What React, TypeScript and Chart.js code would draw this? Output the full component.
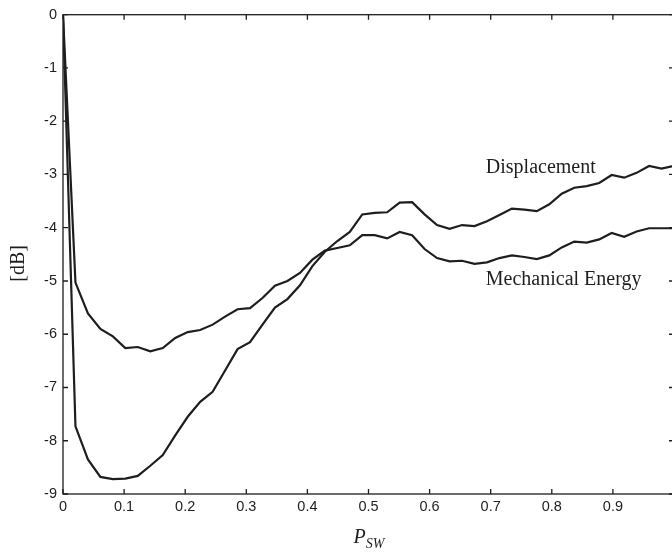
import React, { useEffect, useRef } from "react";
import { Chart, registerables } from "chart.js";

Chart.register(...registerables);

// P_SW sample positions
const psw = [
  0, 0.0204, 0.0408, 0.0612, 0.0816, 0.102, 0.1224, 0.1429, 0.1633, 0.1837,
  0.2041, 0.2245, 0.2449, 0.2653, 0.2857, 0.3061, 0.3265, 0.3469, 0.3673, 0.3878,
  0.4082, 0.4286, 0.449, 0.4694, 0.4898, 0.5102, 0.5306, 0.551, 0.5714, 0.5918,
  0.6122, 0.6327, 0.6531, 0.6735, 0.6939, 0.7143, 0.7347, 0.7551, 0.7755, 0.7959,
  0.8163, 0.8367, 0.8571, 0.8776, 0.898, 0.9184, 0.9388, 0.9592, 0.9796, 1.0,
];

const displacement = [
  0, -7.73, -8.35, -8.68, -8.72, -8.71, -8.66, -8.47, -8.27, -7.9,
  -7.55, -7.27, -7.08, -6.68, -6.28, -6.15, -5.82, -5.5, -5.34, -5.08,
  -4.72, -4.45, -4.25, -4.08, -3.75, -3.72, -3.71, -3.53, -3.52, -3.75,
  -3.95, -4.02, -3.95, -3.97, -3.88, -3.76, -3.64, -3.66, -3.69, -3.56,
  -3.36, -3.25, -3.22, -3.16, -3.01, -3.06, -2.97, -2.84, -2.89, -2.84,
];

const mechanicalEnergy = [
  0, -5.03, -5.61, -5.9, -6.04, -6.26, -6.24, -6.32, -6.26, -6.07,
  -5.96, -5.92, -5.82, -5.67, -5.53, -5.51, -5.32, -5.09, -5.0, -4.85,
  -4.6, -4.43, -4.38, -4.33, -4.14, -4.14, -4.2, -4.08, -4.14, -4.4,
  -4.57, -4.63, -4.62, -4.68, -4.65, -4.57, -4.52, -4.55, -4.59, -4.52,
  -4.37, -4.26, -4.28, -4.22, -4.1, -4.17, -4.07, -4.01, -4.01, -4.01,
];

const seriesNames = ["Displacement", "Mechanical Energy"];
const xTicks = [0, 0.1, 0.2, 0.3, 0.4, 0.5, 0.6, 0.7, 0.8, 0.9, 1.0];
const yTicks = [0, -1, -2, -3, -4, -5, -6, -7, -8, -9];
const yTitle = "[dB]";
const xTitleMain = "P";
const xTitleSub = "SW";

const INK = "#1e1e1e";

const framePlugin = {
  id: "matlabFrame",
  beforeDatasetsDraw(chart: any) {
    const { ctx, chartArea: a, scales } = chart;
    const x = scales.x;
    const y = scales.y;
    ctx.save();
    ctx.strokeStyle = INK;
    ctx.lineWidth = 1.3;
    ctx.strokeRect(a.left, a.top, a.right - a.left, a.bottom - a.top);
    ctx.beginPath();
    const t = 5;
    for (const v of xTicks) {
      const px = x.getPixelForValue(v);
      ctx.moveTo(px, a.bottom);
      ctx.lineTo(px, a.bottom - t);
      ctx.moveTo(px, a.top);
      ctx.lineTo(px, a.top + t);
    }
    for (const v of yTicks) {
      const py = y.getPixelForValue(v);
      ctx.moveTo(a.left, py);
      ctx.lineTo(a.left + t, py);
      ctx.moveTo(a.right, py);
      ctx.lineTo(a.right - t, py);
    }
    ctx.stroke();
    ctx.restore();
  },
  afterDraw(chart: any) {
    const { ctx, chartArea: a, scales } = chart;
    const x = scales.x;
    const y = scales.y;
    ctx.save();
    ctx.fillStyle = INK;
    // series annotations
    ctx.font = '20px "Liberation Serif", "DejaVu Serif", serif';
    ctx.textAlign = "left";
    ctx.textBaseline = "alphabetic";
    ctx.fillText(seriesNames[0], x.getPixelForValue(0.692), y.getPixelForValue(-2.975));
    ctx.fillText(seriesNames[1], x.getPixelForValue(0.692), y.getPixelForValue(-5.07));
    // y title
    ctx.save();
    ctx.translate(24, (a.top + a.bottom) / 2 + 9);
    ctx.rotate(-Math.PI / 2);
    ctx.textAlign = "center";
    ctx.fillText(yTitle, 0, 0);
    ctx.restore();
    // x title
    const cx = (a.left + a.right) / 2;
    ctx.font = 'italic 20px "Liberation Serif", "DejaVu Serif", serif';
    ctx.textAlign = "left";
    ctx.fillText(xTitleMain, cx - 15, a.bottom + 49);
    const pw = ctx.measureText(xTitleMain).width;
    ctx.font = 'italic 14px "Liberation Serif", "DejaVu Serif", serif';
    ctx.fillText(xTitleSub, cx - 15 + pw, a.bottom + 54);
    ctx.restore();
  },
};

export default function App() {
  const canvasRef = useRef<HTMLCanvasElement | null>(null);

  useEffect(() => {
    const canvas = canvasRef.current;
    if (!canvas) return;
    const chart = new Chart(canvas, {
      type: "line",
      data: {
        datasets: [
          {
            label: seriesNames[0],
            data: psw.map((v, i) => ({ x: v, y: displacement[i] })),
            borderColor: INK,
            borderWidth: 2.2,
            pointRadius: 0,
            tension: 0,
            fill: false,
          },
          {
            label: seriesNames[1],
            data: psw.map((v, i) => ({ x: v, y: mechanicalEnergy[i] })),
            borderColor: INK,
            borderWidth: 2.2,
            pointRadius: 0,
            tension: 0,
            fill: false,
          },
        ],
      },
      options: {
        responsive: false,
        animation: false,
        devicePixelRatio: 1,
        layout: { padding: { top: 13, right: 4, left: 0, bottom: 0 } },
        plugins: {
          legend: { display: false },
          tooltip: { enabled: false },
          title: { display: false },
        },
        scales: {
          x: {
            type: "linear",
            min: 0,
            max: 1,
            afterFit: (s: any) => {
              s.height = 58;
            },
            afterBuildTicks: (s: any) => {
              s.ticks = xTicks.map((v) => ({ value: v }));
            },
            grid: { display: false, drawTicks: false },
            border: { display: false },
            ticks: {
              autoSkip: false,
              maxRotation: 0,
              padding: 4,
              color: INK,
              font: { family: '"Liberation Sans", Arial, sans-serif', size: 14.5 },
              callback: (v: any) => (Math.abs(v - 1) < 1e-6 ? "" : String(Number(Number(v).toFixed(1)))),
            },
          },
          y: {
            type: "linear",
            min: -9,
            max: 0,
            afterFit: (s: any) => {
              s.width = 63;
            },
            afterBuildTicks: (s: any) => {
              s.ticks = yTicks.map((v) => ({ value: v }));
            },
            grid: { display: false, drawTicks: false },
            border: { display: false },
            ticks: {
              autoSkip: false,
              padding: 6,
              color: INK,
              font: { family: '"Liberation Sans", Arial, sans-serif', size: 14.5 },
              callback: (v: any) => String(v),
            },
          },
        },
      },
      plugins: [framePlugin],
    });
    return () => chart.destroy();
  }, []);

  return (
    <div
      style={{
        position: "fixed",
        left: 0,
        top: 0,
        width: 672,
        height: 552,
        overflow: "hidden",
        background: "#fff",
      }}
    >
      <canvas ref={canvasRef} width={678} height={552} style={{ width: 678, height: 552, display: "block" }} />
    </div>
  );
}
